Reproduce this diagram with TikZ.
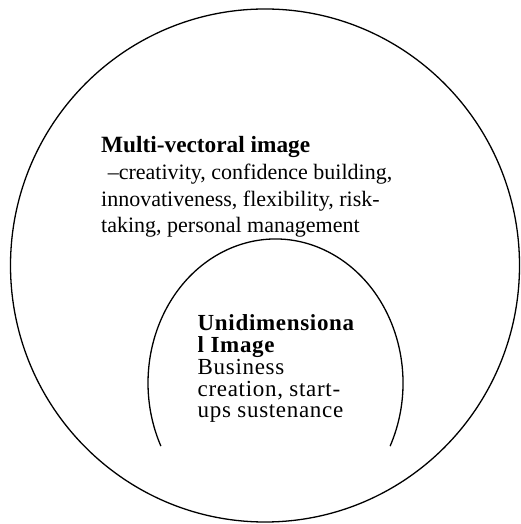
\documentclass[tikz,border=0pt]{standalone}
\usepackage{fontspec}
\setmainfont{Liberation Serif}
\newfontfamily\innerfont[LetterSpace=3]{Liberation Serif}
\usetikzlibrary{positioning}

\begin{document}
\begin{tikzpicture}[
  x=1pt, y=1pt,
  ring/.style={draw, line width=1.3pt},
  outerlabel/.style={align=left, inner sep=0pt, anchor=base west, font=\fontsize{22}{26.8}\selectfont},
  innerlabel/.style={align=left, inner sep=0pt, anchor=base west, font=\innerfont\fontsize{23}{21.8}\selectfont}
]
\useasboundingbox (0,0) rectangle (520,524);
% outer circle and inner arch
\draw[ring] (265,258.5) ellipse [x radius=254.5, y radius=256.5];
\draw[ring] (275.5,141) ++(-26:127.5 and 144) arc[start angle=-26, end angle=206, x radius=127.5, y radius=144];

% base anchor sits on the last line
\node[outerlabel] (multi) at (101,291) {{\fontsize{23.3}{26.8}\selectfont\textbf{Multi-vectoral image}}\\
  \hspace{0.3em}--creativity, confidence building,\\
  innovativeness, flexibility, risk-\\
  taking, personal management};
\node[innerlabel] (uni) at (197.5,106) {\textbf{Unidimensiona}\\
  \textbf{l Image}\\
  Business\\
  creation, start-\\
  ups sustenance};
\end{tikzpicture}
\end{document}
